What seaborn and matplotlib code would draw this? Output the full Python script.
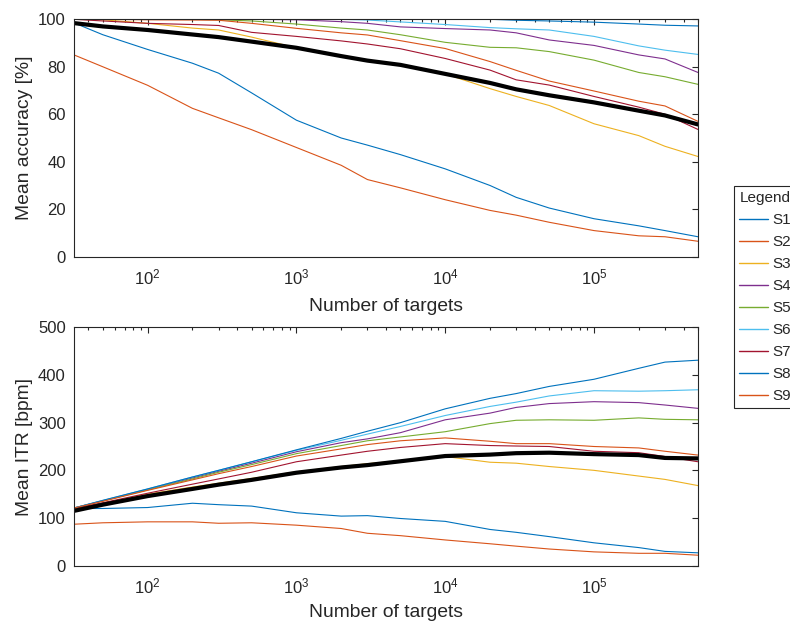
import matplotlib
matplotlib.use("Agg")
import matplotlib.pyplot as plt
import numpy as np
import pandas as pd
import seaborn as sns

# Number of targets at which accuracy / ITR were evaluated
n_targets = [32, 50, 100, 200, 300, 500, 1e3, 2e3, 3e3, 5e3,
             1e4, 2e4, 3e4, 5e4, 1e5, 2e5, 3e5, 5e5]

subjects = ["S1", "S2", "S3", "S4", "S5", "S6", "S7", "S8", "S9"]

# Mean accuracy [%] per subject
acc_s1 = [98.5, 93.5, 87.3, 81.5, 77.3, 69.0, 57.5, 50.0, 47.0, 43.0, 37.0, 30.0, 25.0, 20.5, 16.0, 13.0, 11.0, 8.4]
acc_s2 = [85.0, 80.0, 72.2, 62.5, 58.5, 53.5, 46.0, 38.5, 32.5, 29.0, 24.0, 19.5, 17.5, 14.5, 11.0, 8.8, 8.4, 6.5]
acc_s3 = [100.0, 99.8, 98.3, 96.3, 95.5, 92.5, 88.0, 84.5, 82.6, 80.8, 77.0, 70.8, 67.5, 63.7, 56.0, 51.0, 46.5, 42.2]
acc_s4 = [100.0, 100.0, 100.0, 100.0, 100.0, 100.0, 99.8, 99.0, 98.3, 96.8, 96.1, 95.5, 94.3, 91.3, 89.0, 85.0, 83.3, 77.6]
acc_s5 = [100.0, 100.0, 100.0, 100.0, 99.8, 99.3, 98.0, 96.3, 95.5, 93.5, 90.3, 88.2, 88.0, 86.4, 82.8, 77.6, 75.8, 72.6]
acc_s6 = [100.0, 100.0, 100.0, 100.0, 100.0, 100.0, 100.0, 100.0, 99.7, 98.9, 97.8, 96.5, 96.0, 95.5, 92.8, 88.8, 87.0, 85.2]
acc_s7 = [100.0, 99.3, 98.3, 97.8, 97.4, 94.5, 92.8, 90.9, 89.6, 87.6, 83.5, 78.6, 74.5, 72.3, 67.5, 63.0, 60.0, 53.6]
acc_s8 = [100.0, 100.0, 100.0, 100.0, 100.0, 100.0, 100.0, 100.0, 100.0, 100.0, 100.0, 100.0, 99.6, 99.3, 98.8, 98.0, 97.5, 97.2]
acc_s9 = [100.0, 100.0, 99.8, 99.7, 99.6, 98.3, 96.2, 94.3, 93.4, 91.0, 87.7, 82.2, 78.5, 74.0, 69.8, 65.5, 63.5, 57.0]
acc_mean = [98.4, 97.0, 95.5, 93.6, 92.5, 90.6, 88.0, 84.5, 82.6, 80.8, 77.0, 73.2, 70.5, 68.0, 65.0, 61.5, 59.5, 55.7]

# Mean ITR [bpm] per subject
itr_s1 = [120, 120, 122, 131, 128, 125, 111, 104, 105, 99, 93, 76, 70, 61, 48, 38, 30, 27]
itr_s2 = [87, 90, 92, 92, 89, 90, 85, 78, 68, 63, 54, 46, 41, 35, 29, 26, 26, 22]
itr_s3 = [119, 131, 150, 165, 173, 183, 197, 208, 214, 220, 229, 217, 215, 208, 200, 188, 181, 168]
itr_s4 = [121, 136, 160, 184, 198, 215, 239, 258, 266, 279, 306, 320, 332, 340, 344, 342, 337, 330]
itr_s5 = [121, 136, 159, 182, 196, 212, 235, 252, 262, 270, 281, 298, 305, 306, 305, 310, 307, 306]
itr_s6 = [121, 137, 161, 186, 200, 218, 242, 263, 276, 292, 315, 334, 343, 356, 367, 366, 367, 369]
itr_s7 = [120, 132, 152, 171, 182, 196, 218, 232, 240, 248, 256, 252, 251, 250, 240, 237, 229, 218]
itr_s8 = [121, 137, 161, 186, 200, 218, 243, 267, 282, 300, 329, 351, 361, 376, 391, 414, 427, 431]
itr_s9 = [121, 135, 158, 180, 193, 208, 230, 245, 254, 262, 268, 261, 256, 256, 250, 247, 240, 232]
itr_mean = [115, 128, 146, 161, 170, 180, 195, 206, 211, 219, 230, 233, 236, 237, 234, 232, 226, 225]

acc_all = [acc_s1, acc_s2, acc_s3, acc_s4, acc_s5, acc_s6, acc_s7, acc_s8, acc_s9]
itr_all = [itr_s1, itr_s2, itr_s3, itr_s4, itr_s5, itr_s6, itr_s7, itr_s8, itr_s9]

# MATLAB default line colour order (cycles after seven entries)
matlab_colors = ["#0072BD", "#D95319", "#EDB120", "#7E2F8E", "#77AC30",
                 "#4DBEEE", "#A2142F"]
palette = {s: matlab_colors[i % 7] for i, s in enumerate(subjects)}

rows = []
for s, acc, itr in zip(subjects, acc_all, itr_all):
    for n, a, r in zip(n_targets, acc, itr):
        rows.append({"subject": s, "n": n, "acc": a, "itr": r})
df = pd.DataFrame(rows)
df_mean = pd.DataFrame({"n": n_targets, "acc": acc_mean, "itr": itr_mean})

sns.set_style("white")
plt.rcParams["font.family"] = ["Liberation Sans", "DejaVu Sans"]
plt.rcParams["text.color"] = "#262626"
plt.rcParams["axes.labelcolor"] = "#262626"
plt.rcParams["xtick.color"] = "#262626"
plt.rcParams["ytick.color"] = "#262626"

fig = plt.figure(figsize=(7.9, 6.24), dpi=100)
W, H = 790, 624
ax1 = fig.add_axes([74 / W, 1 - 256.7 / H, 624 / W, 237.4 / H])
ax2 = fig.add_axes([74 / W, 1 - 565.7 / H, 624 / W, 238.4 / H])

for ax, col, ylabel, ylim, yticks, xlab_y in [
    (ax1, "acc", "Mean accuracy [%]", (0, 100), np.arange(0, 101, 20), -0.172),
    (ax2, "itr", "Mean ITR [bpm]", (0, 500), np.arange(0, 501, 100), -0.162),
]:
    sns.lineplot(data=df, x="n", y=col, hue="subject", palette=palette,
                 hue_order=subjects, estimator=None, sort=False,
                 linewidth=0.8, legend=False, ax=ax)
    sns.lineplot(data=df_mean, x="n", y=col, color="black", linewidth=3.0,
                 estimator=None, sort=False, legend=False, ax=ax)
    ax.set_xscale("log")
    ax.set_xlim(32, 5e5)
    ax.set_ylim(*ylim)
    ax.set_yticks(yticks)
    ax.set_xticks([1e2, 1e3, 1e4, 1e5])
    ax.tick_params(which="both", direction="in", top=True, right=True,
                   labelsize=12, color="#262626", width=0.8)
    ax.tick_params(which="major", length=4.3)
    ax.tick_params(which="minor", length=2.5)
    ax.tick_params(axis="y", pad=6)
    ax.tick_params(axis="x", pad=7.5)
    for sp in ax.spines.values():
        sp.set_color("#262626")
        sp.set_linewidth(0.8)
    ax.set_xlabel("Number of targets", fontsize=13.9)
    ax.set_ylabel(ylabel, fontsize=13.9)
    ax.xaxis.set_label_coords(0.5, xlab_y)
    ax.yaxis.set_label_coords(-0.066, 0.5)

handles = ax1.get_lines()[:9]
leg = fig.legend(handles, subjects, title="Legend", loc="upper left",
                 bbox_to_anchor=(734 / W, 1 - 186 / H),
                 fontsize=11, title_fontsize=11, frameon=True, fancybox=False,
                 edgecolor="#262626", framealpha=1, borderpad=0.35,
                 labelspacing=0.52, handlelength=1.85, handletextpad=0.3,
                 borderaxespad=0, alignment="left")
leg.get_frame().set_linewidth(0.8)
for line in leg.get_lines():
    line.set_linewidth(1.0)

fig.savefig("out.png", dpi=100)
